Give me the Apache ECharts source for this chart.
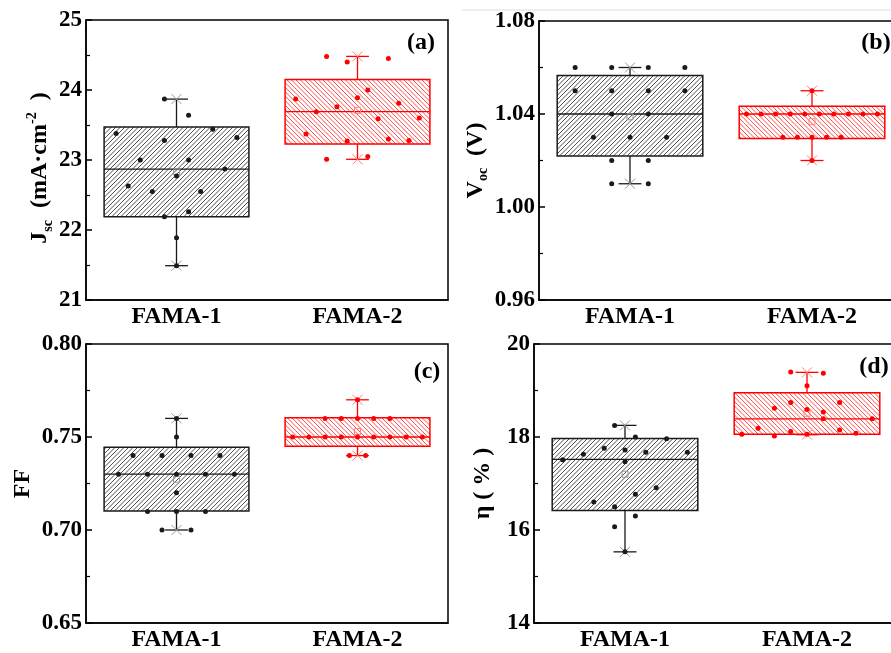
<!DOCTYPE html>
<html>
<head>
<meta charset="utf-8">
<script src="https://cdn.jsdelivr.net/npm/echarts@6/dist/echarts.min.js"></script>
<style>
	html, body { margin: 0; padding: 0; background: #fff; }
	#chart { width: 891px; height: 653px; }
</style>
</head>
<body>
<div id="chart"></div>
<script>
var categories = ["FAMA-1", "FAMA-2"];

// box stats: [q1, median, q3, min, max, mean]
var jscBox1 = [22.19, 22.87, 23.47, 21.49, 23.87, 22.83];
var jscBox2 = [23.23, 23.69, 24.15, 23.01, 24.48, 23.71];
var vocBox1 = [1.0219, 1.04, 1.0566, 1.01, 1.06, 1.0388];
var vocBox2 = [1.0295, 1.04, 1.0433, 1.02, 1.05, 1.0367];
var ffBox1 = [0.7102, 0.73, 0.7445, 0.70, 0.76, 0.7273];
var ffBox2 = [0.745, 0.75, 0.7604, 0.74, 0.77, 0.7529];
var effBox1 = [16.42, 17.52, 17.97, 15.53, 18.25, 17.20];
var effBox2 = [18.06, 18.39, 18.95, 18.05, 19.39, 18.51];

// individual devices, with their bin offset (in bins) as plotted
var jscVals1 = [23.87, 23.64, 23.38, 23.44, 23.32, 23.28, 23.00, 23.00, 22.87, 22.77, 22.63, 22.55, 22.55, 22.26, 22.19, 21.89, 21.49];
var jscBins1 = [-1, 1, -5, 3, 5, -1, -3, 1, 4, 0, -4, -2, 2, 1, -1, 0, 0];
var jscVals2 = [24.48, 24.40, 24.45, 23.89, 24.00, 23.87, 23.81, 23.76, 23.69, 23.59, 23.60, 23.37, 23.27, 23.30, 23.28, 23.01, 23.05];
var jscBins2 = [-3, -1, 3, 0, 1, -6, 4, -2, -4, 2, 6, -5, -1, 3, 5, -3, 1];

var vocVals1 = [1.06, 1.06, 1.06, 1.06, 1.05, 1.05, 1.05, 1.05, 1.04, 1.04, 1.03, 1.03, 1.03, 1.02, 1.02, 1.01, 1.01];
var vocBins1 = [-3, -1, 1, 3, -3, -1, 1, 3, -1, 1, -2, 0, 2, -1, 1, -1, 1];
var vocVals2 = [1.05, 1.04, 1.04, 1.04, 1.04, 1.04, 1.04, 1.04, 1.04, 1.04, 1.04, 1.03, 1.03, 1.03, 1.03, 1.03, 1.02];
var vocBins2 = [0, -4.5, -3.5, -2.5, -1.5, -0.5, 0.5, 1.5, 2.5, 3.5, 4.5, -2, -1, 0, 1, 2, 0];

var ffVals1 = [0.76, 0.75, 0.74, 0.74, 0.74, 0.74, 0.73, 0.73, 0.73, 0.73, 0.73, 0.72, 0.71, 0.71, 0.71, 0.70, 0.70];
var ffBins1 = [0, 0, -3, -1, 1, 3, -4, -2, 0, 2, 4, 0, -2, 0, 2, -1, 1];
var ffVals2 = [0.77, 0.76, 0.76, 0.76, 0.76, 0.76, 0.75, 0.75, 0.75, 0.75, 0.75, 0.75, 0.75, 0.75, 0.75, 0.74, 0.74];
var ffBins2 = [0, -2, -1, 0, 1, 2, -4, -3, -2, -1, 0, 1, 2, 3, 4, -0.5, 0.5];

var effVals1 = [18.25, 18.00, 17.96, 17.76, 17.72, 17.63, 17.67, 17.67, 17.51, 17.47, 16.91, 16.77, 16.60, 16.50, 16.30, 16.07, 15.53];
var effBins1 = [-1, 1, 4, -2, 0, -4, 2, 6, -6, 0, 3, 1, -3, -1, 1, -1, 0];
var effVals2 = [19.40, 19.37, 19.10, 18.74, 18.74, 18.62, 18.59, 18.54, 18.39, 18.39, 18.19, 18.12, 18.15, 18.06, 18.02, 18.06, 18.08];
var effBins2 = [-1, 1, 0, 2, -1, -2, 0, 1, 1, 4, -3, -1, 2, -4, -2, 0, 3];

var serif = '"Liberation Serif", "Times New Roman", serif';
var colors = ["#1a1a1a", "#ff0000"];
var lightColors = ["#999999", "#ff8080"];

// diagonal hatch tile, two lines per 9px tile -> 4.5px pitch
function hatch(color, back) {
	var s = 9;
	var c = document.createElement("canvas");
	c.width = s; c.height = s;
	var ctx = c.getContext("2d");
	ctx.strokeStyle = color;
	ctx.lineWidth = 0.9;
	ctx.beginPath();
	for (var k = -s; k <= s; k += 4.5) {
		if (back) {
			ctx.moveTo(k, 0); ctx.lineTo(k + s, s);
		} else {
			ctx.moveTo(k, s); ctx.lineTo(k + s, 0);
		}
	}
	ctx.stroke();
	return { image: c, repeat: "repeat" };
}
var patterns = [hatch("#3a3a3a", false), hatch("#ff3b3b", true)];

function renderBox(params, api) {
	var g = api.value(0);
	var col = colors[g], light = lightColors[g];
	var q1 = api.value(1), med = api.value(2), q3 = api.value(3);
	var lo = api.value(4), hi = api.value(5), mean = api.value(6);
	var tl = api.coord([g - 0.4, q3]);
	var br = api.coord([g + 0.4, q1]);
	var cx = api.coord([g, med])[0];
	var yMed = api.coord([g, med])[1];
	var yLo = api.coord([g, lo])[1];
	var yHi = api.coord([g, hi])[1];
	var yMean = api.coord([g, mean])[1];
	var capHalf = api.coord([g + 0.063, med])[0] - cx;
	var line = { stroke: col, lineWidth: 1.3 };
	var children = [
		{ type: "rect", shape: { x: tl[0], y: tl[1], width: br[0] - tl[0], height: br[1] - tl[1] },
			style: { fill: patterns[g], stroke: col, lineWidth: 1.5 } },
		{ type: "line", shape: { x1: tl[0], y1: yMed, x2: br[0], y2: yMed }, style: line },
		{ type: "line", shape: { x1: cx, y1: tl[1], x2: cx, y2: yHi }, style: line },
		{ type: "line", shape: { x1: cx, y1: br[1], x2: cx, y2: yLo }, style: line },
		{ type: "line", shape: { x1: cx - capHalf, y1: yHi, x2: cx + capHalf, y2: yHi }, style: line },
		{ type: "line", shape: { x1: cx - capHalf, y1: yLo, x2: cx + capHalf, y2: yLo }, style: line },
		{ type: "rect", shape: { x: cx - 3, y: yMean - 3, width: 6, height: 6 },
			style: { fill: "none", stroke: light, lineWidth: 1 } }
	];
	[yHi, yLo].forEach(function (y) {
		children.push({ type: "line", shape: { x1: cx - 5, y1: y - 5, x2: cx + 5, y2: y + 5 }, style: { stroke: light, lineWidth: 1 } });
		children.push({ type: "line", shape: { x1: cx - 5, y1: y + 5, x2: cx + 5, y2: y - 5 }, style: { stroke: light, lineWidth: 1 } });
	});
	return { type: "group", children: children };
}

function points(g, bins, vals, binWidth) {
	return bins.map(function (b, k) { return [g + b * binWidth, vals[k]]; });
}

var panels = [
	{ grid: { left: 86, top: 20, width: 362, height: 280 }, min: 21, max: 25, interval: 1, digits: 0,
		name: "{b|J}{s|sc}{b|  (mA·cm}{p|-2}{b|  )}{g|}", nameGap: 31,
		boxes: [jscBox1, jscBox2],
		pts: [points(0, jscBins1, jscVals1, 0.0667), points(1, jscBins2, jscVals2, 0.0569)] },
	{ grid: { left: 539, top: 21, width: 364, height: 279 }, min: 0.96, max: 1.08, interval: 0.04, digits: 2,
		name: "{b|V}{s|oc}{b|  (V)}", nameGap: 47,
		boxes: [vocBox1, vocBox2],
		pts: [points(0, vocBins1, vocVals1, 0.1005), points(1, vocBins2, vocVals2, 0.080)] },
	{ grid: { left: 86, top: 344, width: 362, height: 279 }, min: 0.65, max: 0.80, interval: 0.05, digits: 2,
		name: "{b|FF}", nameGap: 48,
		boxes: [ffBox1, ffBox2],
		pts: [points(0, ffBins1, ffVals1, 0.080), points(1, ffBins2, ffVals2, 0.0896)] },
	{ grid: { left: 534, top: 344, width: 364, height: 279 }, min: 14, max: 20, interval: 2, digits: 0,
		name: "{b|η ( % )}", nameGap: 36,
		boxes: [effBox1, effBox2],
		pts: [points(0, effBins1, effVals1, 0.0571), points(1, effBins2, effVals2, 0.0896)] }
];

var grids = [], xAxes = [], yAxes = [], series = [];
panels.forEach(function (p, i) {
	grids.push(Object.assign({ show: true, borderColor: "#000", borderWidth: 1.5, containLabel: false, outerBoundsMode: "none" }, p.grid));
	xAxes.push({
		gridIndex: i, type: "category", data: categories, boundaryGap: true,
		axisLine: { onZero: false, lineStyle: { color: "#000", width: 1.5 } },
		axisTick: { inside: true, alignWithLabel: true, length: 6, lineStyle: { color: "#000", width: 1.5 } },
		axisLabel: { color: "#000", fontFamily: serif, fontWeight: "bold", fontSize: 24, margin: 5 },
		splitLine: { show: false }
	});
	xAxes.push({ gridIndex: i, type: "value", min: -0.5, max: 1.5, show: false });
	yAxes.push({
		gridIndex: i, type: "value", min: p.min, max: p.max, interval: p.interval,
		name: p.name, nameLocation: "middle", nameRotate: 90, nameGap: p.nameGap,
		nameTextStyle: {
			color: "#000", fontFamily: serif, fontWeight: "bold", fontSize: 24,
			rich: {
				b: { fontFamily: serif, fontWeight: "bold", fontSize: 24, color: "#000", lineHeight: 30 },
				s: { fontFamily: serif, fontWeight: "bold", fontSize: 14, color: "#000", lineHeight: 14, verticalAlign: "bottom" },
				p: { fontFamily: serif, fontWeight: "bold", fontSize: 14, color: "#000", lineHeight: 14, verticalAlign: "top" },
				g: { width: 16 }
			}
		},
		axisLine: { show: true, onZero: false, lineStyle: { color: "#000", width: 1.5 } },
		axisTick: { show: true, inside: true, length: 6, lineStyle: { color: "#000", width: 1.5 } },
		minorTick: { show: true, splitNumber: 2, length: 4, lineStyle: { color: "#000", width: 1.2 } },
		splitLine: { show: false },
		minorSplitLine: { show: false },
		axisLabel: {
			color: "#000", fontFamily: serif, fontWeight: "bold", fontSize: 23, margin: 4,
			formatter: function (v) { return v.toFixed(p.digits); }
		}
	});
	series.push({
		type: "custom", xAxisIndex: 2 * i + 1, yAxisIndex: i, renderItem: renderBox,
		encode: { x: 0, y: [1, 2, 3, 4, 5] }, silent: true, z: 2,
		data: p.boxes.map(function (b, g) { return [g].concat(b); })
	});
	p.pts.forEach(function (d, g) {
		series.push({
			type: "scatter", xAxisIndex: 2 * i + 1, yAxisIndex: i, data: d,
			symbol: "circle", symbolSize: 5, silent: true, z: 5,
			itemStyle: { color: colors[g], opacity: 1 }
		});
	});
});

var labelFont = "bold 24px " + serif;
var chart = echarts.init(document.getElementById("chart"), null, { renderer: "canvas" });
chart.setOption({
	animation: false,
	backgroundColor: "#fff",
	grid: grids,
	xAxis: xAxes,
	yAxis: yAxes,
	series: series,
	graphic: [
		{ type: "line", shape: { x1: 462, y1: 10, x2: 891, y2: 10 }, style: { stroke: "#dddddd", lineWidth: 1 } },
		{ type: "text", x: 421, y: 43, style: { text: "(a)", font: labelFont, fill: "#000", align: "center", verticalAlign: "middle" } },
		{ type: "text", x: 876, y: 43, style: { text: "(b)", font: labelFont, fill: "#000", align: "center", verticalAlign: "middle" } },
		{ type: "text", x: 427, y: 372, style: { text: "(c)", font: labelFont, fill: "#000", align: "center", verticalAlign: "middle" } },
		{ type: "text", x: 874, y: 367, style: { text: "(d)", font: labelFont, fill: "#000", align: "center", verticalAlign: "middle" } }
	]
});
</script>
</body>
</html>
